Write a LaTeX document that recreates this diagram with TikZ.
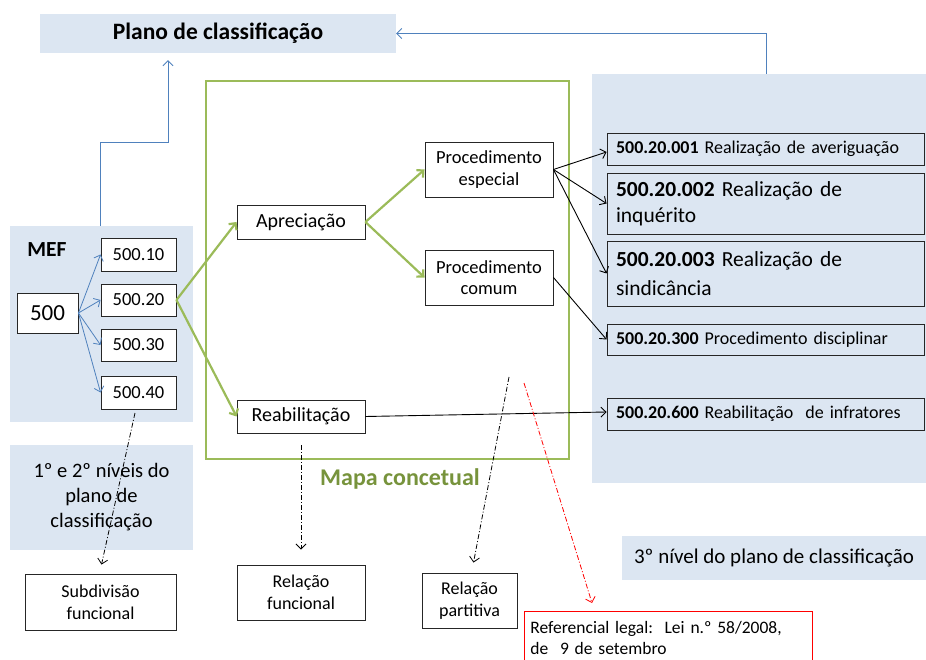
\documentclass[tikz,border=0pt]{standalone}
\usepackage{fontspec}
\setmainfont{Carlito}
\usetikzlibrary{arrows.meta}
\definecolor{panel}{HTML}{DCE6F2}
\definecolor{bline}{HTML}{4F81BD}
\definecolor{gline}{HTML}{9BBB59}
\definecolor{gtext}{HTML}{77933C}
\newcommand{\fs}[2]{\fontsize{#1}{#2}\selectfont}
\begin{document}
\begin{tikzpicture}[x=1pt,y=-1pt,
  panelbox/.style={fill=panel, inner sep=0pt, align=center},
  box/.style={draw=black!85, line width=0.9pt, fill=white, inner sep=0pt, align=center},
  rbox/.style={draw=black!85, line width=0.9pt, inner sep=0pt, minimum width=317, text width=299, align=left},
  barb/.style={-{Straight Barb[length=5pt,width=10pt]}},
  barrow/.style={barb, draw=bline, line width=0.8pt},
  garrow/.style={barb, draw=gline, line width=2.2pt},
  karrow/.style={barb, draw=black, line width=0.9pt},
  dd/.style={barb, line width=0.8pt, dash pattern=on 5pt off 2pt on 1pt off 2pt}
]
\useasboundingbox (0,0) rectangle (926,660);

% panels
\node[panelbox, minimum width=356, minimum height=39, font=\bfseries\fs{23.5}{28}] (plano) at (218,33.5) {Plano de classificação};
\node[panelbox, minimum width=183, minimum height=196] (mefpanel) at (101.5,324) {};
\node[panelbox, minimum width=183, minimum height=105, font=\fs{20.5}{25}] (niv12) at (101.5,497.5) {1º e 2º níveis do\\plano de\\classificação};
\node[panelbox, minimum width=334, minimum height=409] (rpanel) at (759,278.5) {};
\node[panelbox, minimum width=304, minimum height=44, font=\fs{21}{25}] (niv3) at (774,558) {3º nível do plano de classificação};

% green frame
\draw[gline, line width=2.6pt] (206,81) rectangle (569,459);
\node[font=\bfseries\fs{24}{28}, text=gtext] (mapa) at (400,479) {Mapa concetual};

% MEF
\node[font=\bfseries\fs{21.5}{25}] (mef) at (47,250) {MEF};
\node[box, minimum width=61, minimum height=40, font=\fs{23}{27}] (n500) at (47.5,313) {500};
\node[box, minimum width=75, minimum height=33, font=\fs{18.5}{22}] (b10) at (138.5,254.5) {500.10};
\node[box, minimum width=75, minimum height=32, font=\fs{18.5}{22}] (b20) at (138.5,300) {500.20};
\node[box, minimum width=75, minimum height=32, font=\fs{18.5}{22}] (b30) at (138.5,345) {500.30};
\node[box, minimum width=75, minimum height=33, font=\fs{18.5}{22}] (b40) at (138.5,392.5) {500.40};

% concept map
\node[box, minimum width=128, minimum height=34, font=\fs{20}{24}] (apr) at (301,222) {Apreciação};
\node[box, minimum width=128, minimum height=33, font=\fs{20}{24}] (reab) at (301,416.5) {Reabilitação};
\node[box, minimum width=128, minimum height=55, font=\fs{18.5}{21.5}] (pesp) at (489,169.5) {Procedimento\\especial};
\node[box, minimum width=128, minimum height=55, font=\fs{18.5}{21.5}] (pcom) at (489,277.5) {Procedimento\\comum};

% right boxes
\node[rbox, minimum height=32, font=\fs{18}{21}] (r1) at (765.5,149) {\textbf{500.20.001} Realização de averiguação};
\node[rbox, minimum height=61, font=\fs{21.5}{26}] (r2) at (765.5,203.5) {\textbf{500.20.002} Realização de\\inquérito};
\node[rbox, minimum height=65, font=\fs{21.5}{29}] (r3) at (765.5,273.5) {\textbf{500.20.003} Realização de\\sindicância};
\node[rbox, minimum height=31, font=\fs{18}{21}] (r4) at (765.5,339.5) {\textbf{500.20.300} Procedimento disciplinar};
\node[rbox, minimum height=32, font=\fs{18}{21}] (r5) at (765.5,414) {\textbf{500.20.600} Reabilitação\ \ de infratores};

% bottom boxes
\node[box, minimum width=151, minimum height=56, font=\fs{18}{22}] (subd) at (100.5,602) {Subdivisão\\funcional};
\node[box, minimum width=128, minimum height=55, font=\fs{18}{22}] (rfun) at (301,592.5) {Relação\\funcional};
\node[box, minimum width=95, minimum height=55, font=\fs{18}{22}] (rpar) at (469.5,600.5) {Relação\\partitiva};
\node[draw=red, line width=0.9pt, fill=white, minimum width=288, minimum height=54, inner sep=0pt, text width=276, align=left, anchor=north west, font=\fs{17.5}{21}] (ref) at (524,611) {Referencial legal:\ \ Lei n.º 58/2008,\\de\ \ 9 de setembro\\[4pt]};

% blue connectors
\draw[barrow] ([xshift=7]rpanel.north) |- (plano.east);
\draw[barrow, shorten >=7pt] (mefpanel.north -| b10.west) |- (168,142) -- ([xshift=-50]plano.south);
\foreach \b in {b10,b20,b30,b40} \draw[barrow] (n500.east) -- (\b.west);

% green connectors
\draw[garrow] (b20.east) -- (apr.west);
\draw[garrow] (b20.east) -- (reab.west);
\draw[garrow] (apr.east) -- (pesp.west);
\draw[garrow] (apr.east) -- (pcom.west);

% black connectors
\draw[karrow] (pesp.east) -- ([yshift=-3]r1.west);
\draw[karrow] (pesp.east) -- (r2.west);
\draw[karrow] (pesp.east) -- (r3.west);
\draw[karrow] (pcom.east) -- (r4.west);
\draw[karrow] (reab.east) -- ([yshift=2]r5.west);

% dash-dot connectors
\coordinate (s1) at (135,413);
\coordinate (s2) at (509,377);
\coordinate (s3) at (524,383);
\draw[dd] (s1) -- ([xshift=1,yshift=9]subd.north);
\draw[dd] ([yshift=-12]reab.south) -- ([yshift=15]rfun.north);
\draw[dd] (s2) -- ([xshift=4,yshift=10]rpar.north);
\draw[dd, red] (s3) -- ([xshift=68,yshift=8]ref.north west);
\end{tikzpicture}
\end{document}
